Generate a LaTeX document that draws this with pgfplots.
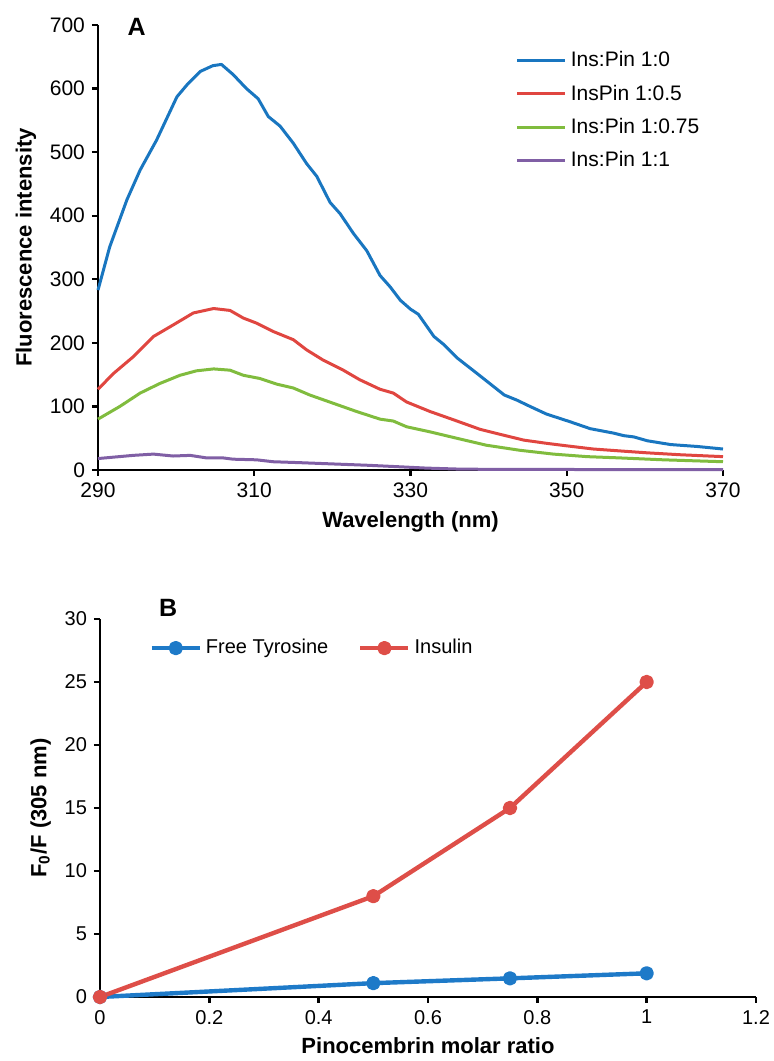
\documentclass[border=0pt]{standalone}
\usepackage{pgfplots}
\pgfplotsset{compat=1.18}
\usepackage{fontspec}
\setmainfont{Liberation Sans}

\definecolor{cblue}{RGB}{25,118,192}
\definecolor{cred}{RGB}{224,70,64}
\definecolor{cgreen}{RGB}{128,188,62}
\definecolor{cpurple}{RGB}{128,95,165}
\definecolor{bblue}{RGB}{30,122,200}
\definecolor{bred}{RGB}{222,78,72}

\pgfplotsset{
  excel/.style={
    scale only axis,
    axis x line*=bottom, axis y line*=left,
    axis line style={-, line width=1.2pt},
    tick align=outside, major tick length=3pt,
    tick style={black, line width=1.2pt},
    label style={font=\bfseries\fontsize{11}{12}\selectfont},
    /pgf/number format/assume math mode=true,
    legend cell align=left,
    clip=false,
  }
}

\begin{document}
\begin{tikzpicture}
\path[use as bounding box] (0,0) rectangle (387pt,530.5pt);

% ---- panel A ----
\begin{axis}[excel,
  at={(49pt,295.5pt)}, anchor=south west,
  width=312.5pt, height=222.5pt,
  xmin=290, xmax=370, ymin=0, ymax=700,
  xtick={290,310,330,350,370},
  ytick={0,100,...,700},
  tick label style={font=\fontsize{10.5}{12}\selectfont},
  xlabel={Wavelength (nm)},
  ylabel={Fluorescence intensity},
  legend style={draw=none, fill=none, at={(rel axis cs:0.668,0.95)}, anchor=north west,
    font=\fontsize{10.5}{12}\selectfont, row sep=3.5pt, inner sep=0pt},
  legend image code/.code={\draw[#1] (0pt,0pt) -- (24pt,0pt);},
]
\addplot[cblue, line width=1.5pt, line join=round] coordinates {
(290,283) (291.5,351) (293.7,425) (295.4,472) (297.5,519) (300.1,587)
(301.4,606) (303.1,627) (304.7,636) (305.8,638) (307.3,622) (309.0,600)
(310.5,584) (311.8,556) (313.3,541) (315.0,514) (316.7,482) (318.0,462)
(319.7,421) (321.0,403) (322.7,372) (324.4,345) (326.1,306) (327.4,288)
(328.7,267) (330.0,253) (331.0,245) (333.0,210) (334.3,197) (336.0,176)
(338.5,152) (342.0,118) (343.6,110) (345.3,100) (347.4,88) (350.4,76)
(353.0,65) (356.0,58) (357.3,54) (358.6,52) (360.3,46) (363.3,40)
(366.7,37) (370,33)
};
\addlegendentry{Ins:Pin 1:0}
\addplot[cred, line width=1.5pt, line join=round] coordinates {
(290,127) (292.0,152) (294.5,178) (297.1,210) (299.6,228) (302.2,247)
(304.8,254) (306.9,251) (308.6,239) (310.3,231) (312.4,218) (315.0,205)
(316.7,189) (318.8,173) (321.4,157) (323.5,142) (326.1,127) (327.8,121)
(329.5,107) (332.5,92) (335.5,79) (338.9,64) (341.5,56) (344.5,47)
(347.4,42) (350.0,38) (353.4,33) (356.8,30) (360.3,27) (364.5,24) (370,21)
};
\addlegendentry{InsPin 1:0.5}
\addplot[cgreen, line width=1.5pt, line join=round] coordinates {
(290,80) (292.8,100) (295.4,121) (297.9,136) (300.5,149) (302.6,156)
(304.8,159) (306.9,157) (308.6,149) (310.7,144) (312.9,135) (315.0,129)
(317.1,118) (320.1,105) (323.1,92) (326.1,80) (327.8,77) (329.5,68)
(332.5,60) (335.9,50) (339.7,39) (344.0,31) (348.3,25) (352.6,21)
(356.8,19) (362.4,16) (370,13)
};
\addlegendentry{Ins:Pin 1:0.75}
\addplot[cpurple, line width=1.5pt, line join=round] coordinates {
(290,18) (294.5,23) (297.1,25) (299.6,22) (301.8,23) (303.9,19) (306.0,19)
(307.3,17) (310.3,16) (312.4,13) (315.9,11.5) (320.1,9.5) (324.4,7.5)
(328.7,5) (332,3) (336,1.5) (340,1) (350,0.8) (360,0.6) (370,0.5)
};
\addlegendentry{Ins:Pin 1:1}
\node[font=\bfseries\fontsize{12.5}{14}\selectfont] at (rel axis cs:0.062,0.995) {A};
\end{axis}

% ---- panel B ----
\begin{axis}[excel,
  at={(50pt,32pt)}, anchor=south west,
  width=328pt, height=189pt,
  xmin=0, xmax=1.2, ymin=0, ymax=30,
  xtick={0,0.2,...,1.2},
  xticklabels={0,0.2,0.4,0.6,0.8,1,1.2},
  ytick={0,5,...,30},
  tick label style={font=\fontsize{10}{12}\selectfont},
  xlabel={Pinocembrin molar ratio},
  ylabel={F\textsubscript{0}/F (305 nm)},
  legend columns=2,
  legend style={draw=none, fill=none, at={(rel axis cs:0.075,0.923)}, anchor=west,
    font=\fontsize{10}{12}\selectfont, inner sep=0pt,
    /tikz/every even column/.append style={column sep=13pt}},
  legend image code/.code={\draw[#1] (0pt,0pt) -- (24pt,0pt);
    \draw[#1, mark repeat=2, mark phase=2] plot coordinates {(0pt,0pt) (12pt,0pt) (24pt,0pt)};},
]
\addplot[bblue, line width=2.2pt, mark=*, mark size=2.5pt, line join=round] coordinates {
(0,0) (0.5,1.1) (0.75,1.48) (1,1.88)
};
\addlegendentry{Free Tyrosine}
\addplot[bred, line width=2.2pt, mark=*, mark size=2.5pt, line join=round] coordinates {
(0,0) (0.5,8) (0.75,15) (1,25)
};
\addlegendentry{Insulin}
\node[font=\bfseries\fontsize{12.5}{14}\selectfont] at (rel axis cs:0.104,1.029) {B};
\end{axis}
\end{tikzpicture}
\end{document}
